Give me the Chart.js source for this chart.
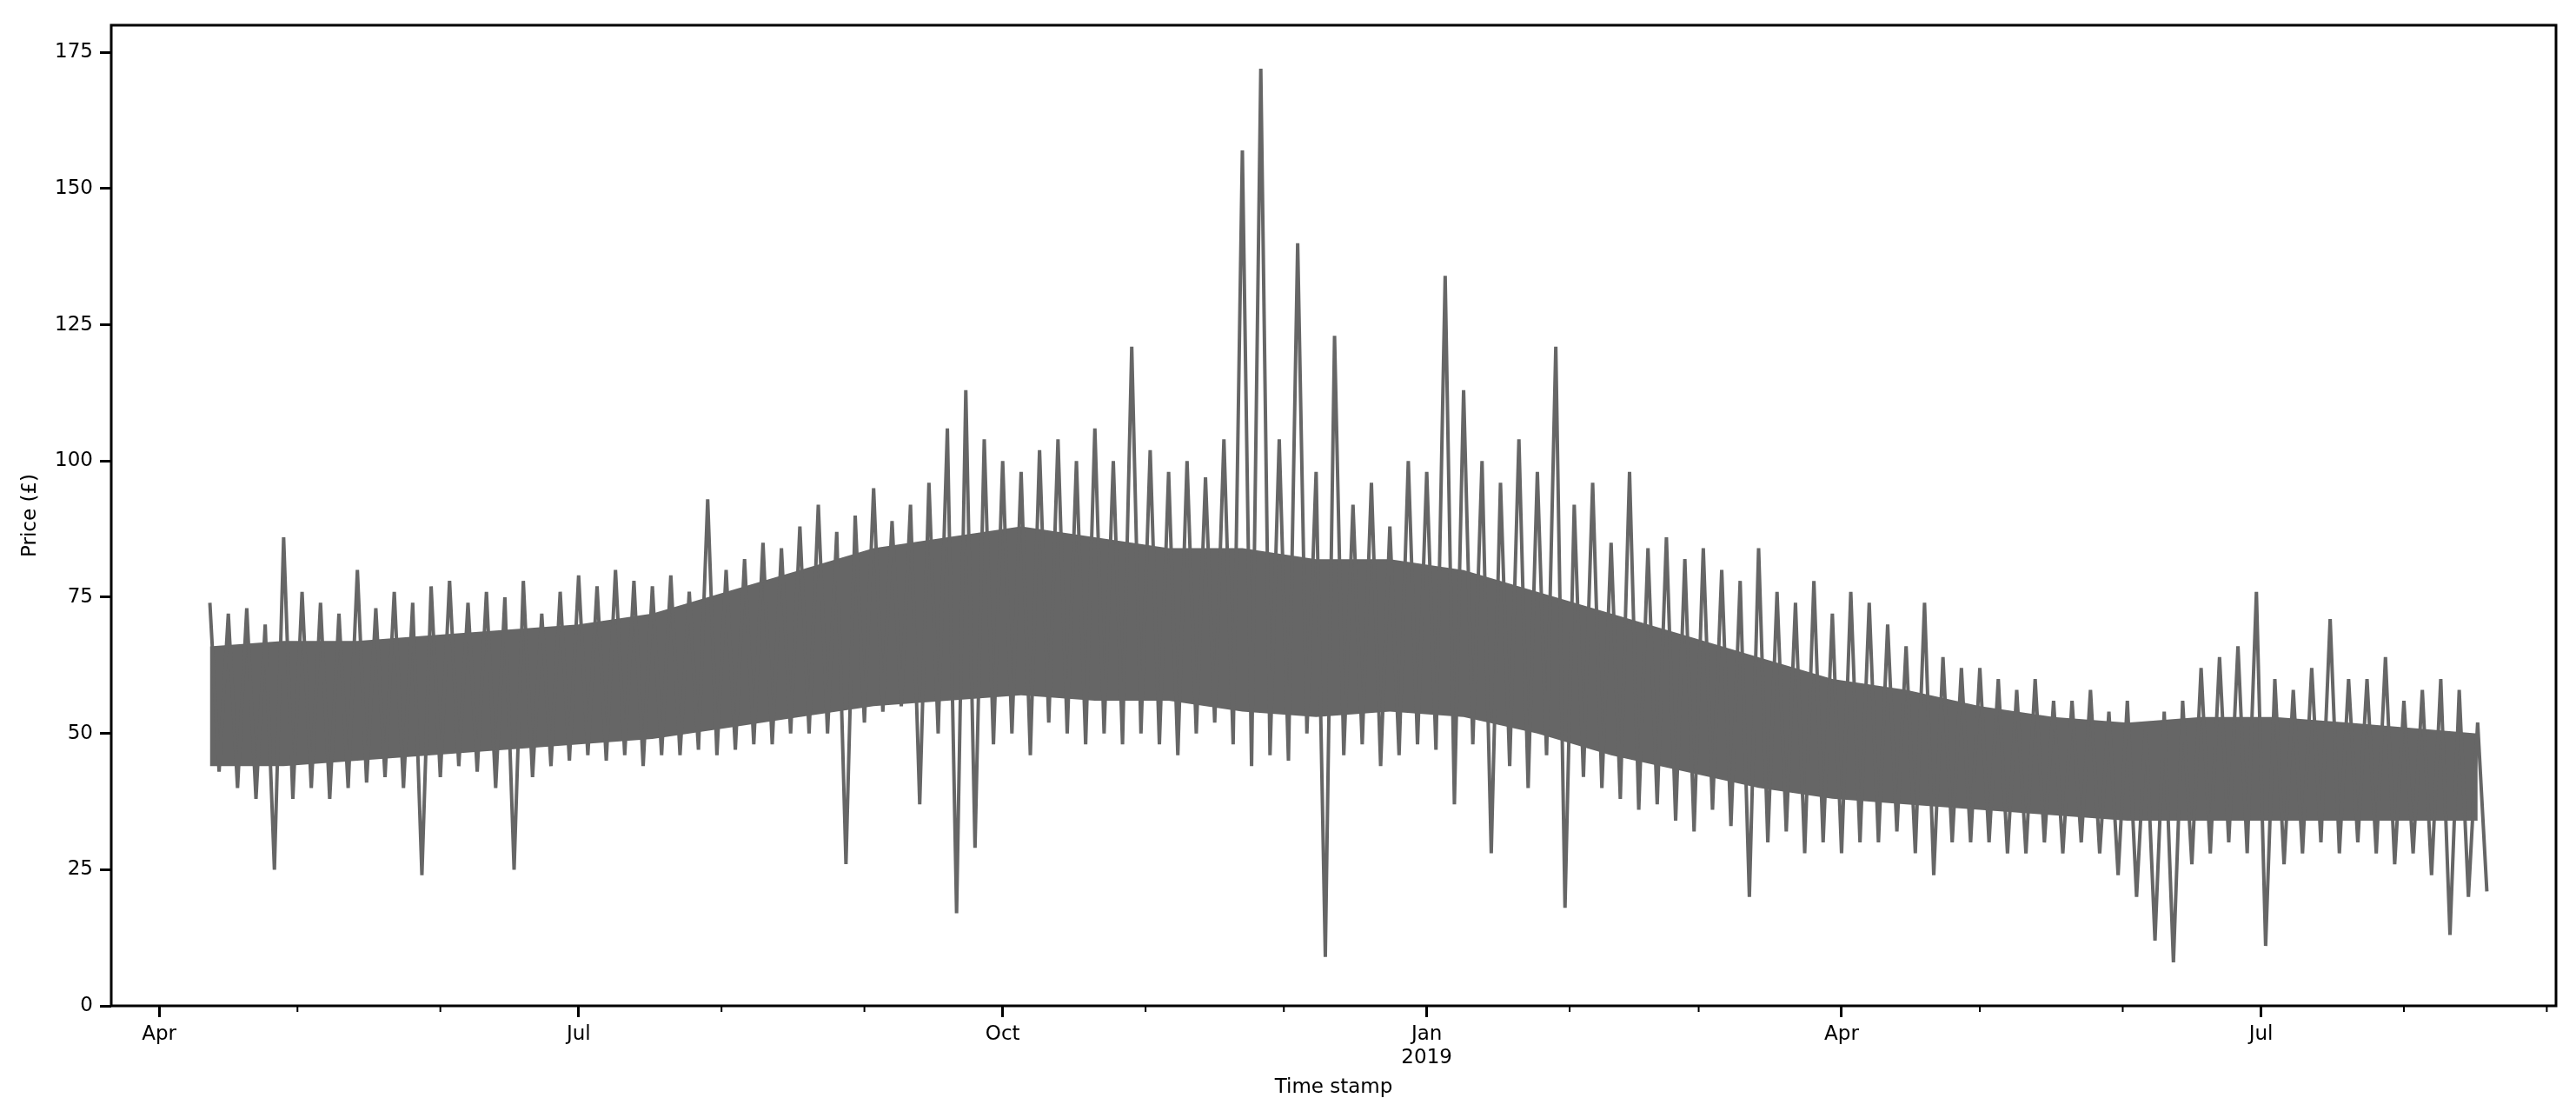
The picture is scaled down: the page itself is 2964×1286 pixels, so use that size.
<!DOCTYPE html>
<html><head><meta charset="utf-8">
<script src="https://cdn.jsdelivr.net/npm/chart.js@4"></script>
<style>html,body{margin:0;padding:0;background:#fff}#w{width:2964px;height:1286px}</style>
</head><body><div id="w"><canvas id="c"></canvas></div>
<script>
// days since 2018-04-01
const startDay = 11;
const stepDays = 4;
const hiVals = [74,72,73,70,86, 76,74,72,80,73,76,74, 77,78,74,76,75,78,72,76, 79,77,80,78,77,79,76,
 93,80,82,85,84,88,92,87, 90,95,89,92,96,106,113, 104,100,98,102,104,100,106,100,
 121,102,98,100,97,104,157,172, 104,140,98,123,92,96,88,100, 98,134,113,100,96,104,98,121,
 92,96,85,98,84,86,82,84, 80,78,84,76,74,78,72,76, 74,70,66,74,64,62,62,60,
 58,60,56,56,58,54,56,52, 54,56,62,64,66,76,60,58, 62,71,60,60,64,56,58,60,58,52];
const loVals = [43,40,38,25,38, 40,38,40,41,42,40,24, 42,44,43,40,25,42,44,45, 46,45,46,44,46,46,47,
 46,47,48,48,50,50,50,26, 52,54,55,37,50,17,29, 48,50,46,52,50,48,50,48,
 50,48,46,50,52,48,44,46, 45,50,9,46,48,44,46,48, 47,37,48,28,44,40,46,18,
 42,40,38,36,37,34,32,36, 33,20,30,32,28,30,28,30, 30,32,28,24,30,30,30,28,
 28,30,28,30,28,24,20,12, 8,26,28,30,28,11,26,28, 30,28,30,28,26,28,24,13,20,21];
const coreStep = 16;
const coreLo = [44,44,45,46,47,48,49,51,53,55,56,57,56,56,54,53,54,53,50,46,43,40,38,37,36,35,34,34,34,34,34];
const coreHi = [66,67,67,68,69,70,72,76,80,84,86,88,86,84,84,82,82,80,76,72,68,64,60,58,55,53,52,53,53,52,50];
const majorTickDays = [0,91,183,275,365,456];
const majorTickLabels = ["Apr","Jul","Oct",["Jan","2019"],"Apr","Jul"];
const minorTickDays = [30,61,122,153,214,244,306,334,395,426,487,518];
const yTicks = [0,25,50,75,100,125,150,175];

const linePts = [];
hiVals.forEach((v,i)=>{ linePts.push({x:startDay+stepDays*i, y:v}); linePts.push({x:startDay+stepDays*i+2, y:loVals[i]}); });
const coreX = coreLo.map((v,i)=>startDay+coreStep*i);
coreX[coreX.length-1] = startDay+stepDays*(hiVals.length-1);
const coreHiPts = coreHi.map((v,i)=>({x:coreX[i], y:v}));
const coreLoPts = coreLo.map((v,i)=>({x:coreX[i], y:v}));

const GREY = '#666666';
const frame = {
  id:'frame',
  afterDraw(ch){
    const {ctx, chartArea:a, scales:{x}} = ch;
    ctx.save();
    ctx.strokeStyle='#000'; ctx.lineWidth=3;
    ctx.strokeRect(a.left, a.top, a.right-a.left, a.bottom-a.top);
    ctx.lineWidth=2;
    minorTickDays.forEach(d=>{ const px=x.getPixelForValue(d); ctx.beginPath(); ctx.moveTo(px,a.bottom); ctx.lineTo(px,a.bottom+7); ctx.stroke(); });
    ctx.restore();
  }
};

new Chart(document.getElementById('c'), {
  type:'line',
  data:{ datasets:[
    {data:coreHiPts, borderColor:GREY, backgroundColor:GREY, borderWidth:0, pointRadius:0, fill:'+1', order:2},
    {data:coreLoPts, borderColor:GREY, borderWidth:0, pointRadius:0, fill:false, order:2},
    {data:linePts, borderColor:GREY, borderWidth:4, pointRadius:0, tension:0, fill:false, order:1}
  ]},
  options:{
    responsive:true, maintainAspectRatio:false, animation:false,
    layout:{padding:{left:17,right:23,top:29,bottom:17}},
    plugins:{legend:{display:false}, tooltip:{enabled:false}},
    scales:{
      x:{type:'linear', min:-10.4, max:520, offset:false,
        afterBuildTicks(s){ s.ticks = majorTickDays.map(v=>({value:v})); },
        afterFit(s){ s.height=112; },
        ticks:{autoSkip:false, maxRotation:0, color:'#000', font:{family:'DejaVu Sans', size:23}, padding:6,
          callback(v,i){ return majorTickLabels[i]; }},
        grid:{offset:false, drawOnChartArea:false, drawTicks:true, tickLength:13, tickWidth:3, tickColor:'#000'},
        border:{display:false},
        title:{display:true, text:'Time stamp', color:'#000', font:{family:'DejaVu Sans', size:23}, padding:{top:4}}
      },
      y:{min:0, max:180,
        afterBuildTicks(s){ s.ticks = yTicks.map(v=>({value:v})); },
        afterFit(s){ s.width=111; },
        ticks:{color:'#000', font:{family:'DejaVu Sans', size:23}, padding:8},
        grid:{drawOnChartArea:false, tickLength:13, tickWidth:3, tickColor:'#000'},
        border:{display:false},
        title:{display:true, text:'Price (£)', color:'#000', font:{family:'DejaVu Sans', size:23}, padding:{bottom:6}}
      }
    }
  },
  plugins:[frame]
});
</script></body></html>
